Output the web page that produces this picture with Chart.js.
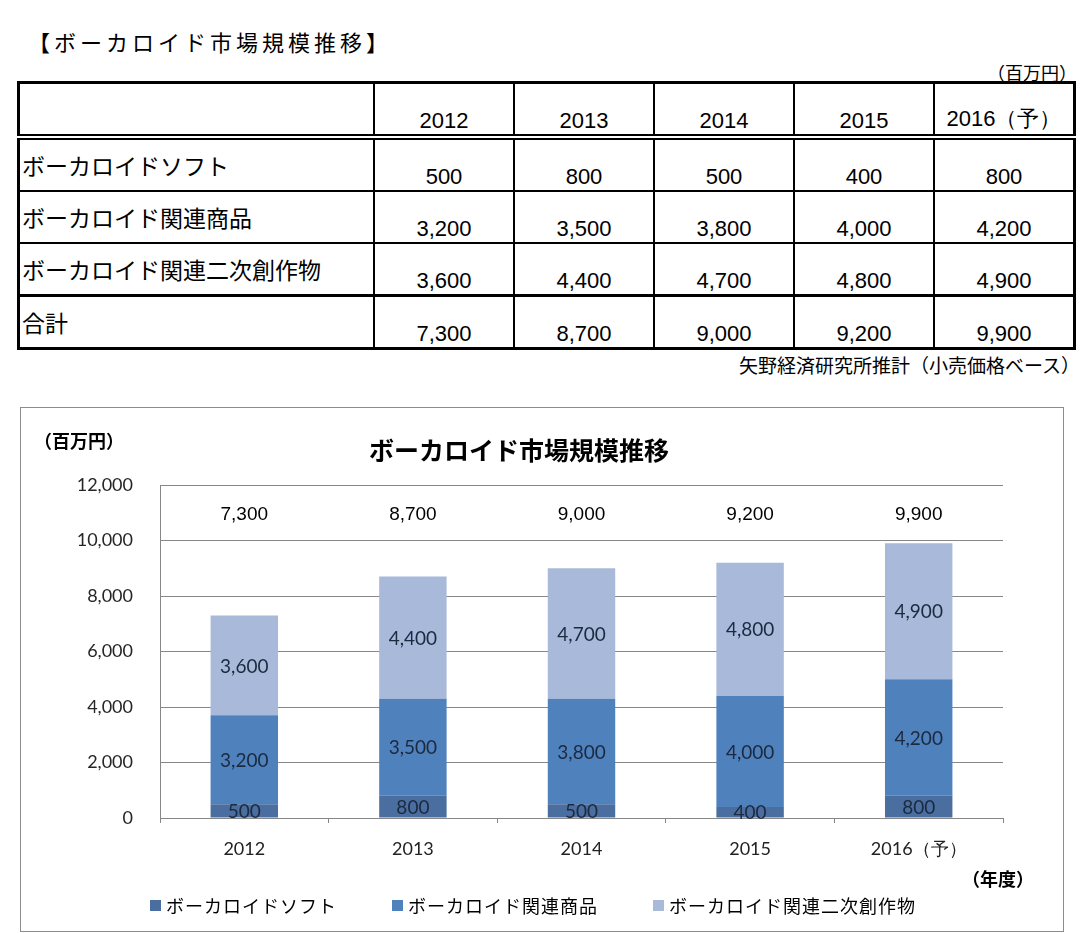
<!DOCTYPE html>
<html lang="ja">
<head>
<meta charset="UTF-8">
<title>ボーカロイド市場規模推移</title>
<script src="https://cdn.jsdelivr.net/npm/chart.js@4.4.1/dist/chart.umd.min.js"></script>
<style>
  body { margin: 0; width: 1080px; height: 933px; position: relative; background: #fff; font-family: "Noto Sans CJK JP", sans-serif; color: #000; overflow: hidden; }
  .abs { position: absolute; white-space: nowrap; line-height: 1; }
  #pageTitle { left: 28px; top: 30px; font-size: 22px; letter-spacing: 4px; }
  #unitTop { right: 3px; top: 63px; font-size: 18px; }
  #source { right: 0; top: 355px; font-size: 19px; }
  table { position: absolute; left: 17px; top: 81px; border-collapse: collapse; border: 3px solid #000; table-layout: fixed; }
  td { border: 2px solid #000; height: 50px; padding: 0 2px; font-size: 22px; }
  td.lbl { width: 349px; vertical-align: middle; text-align: left; font-size: 23px; }
  td.num { width: 134px; vertical-align: bottom; text-align: center; font-family: "Liberation Sans", Arial, sans-serif; padding-bottom: 0; }
  tr.head td { border-bottom: 6px double #000; }
  tr.sub td { border-bottom: 3px solid #000; }
  #box { position: absolute; left: 20px; top: 407px; width: 1042px; height: 523px; border: 1px solid #8c8c8c; }
  #chart { display: block; }
  #unitChart { left: 34px; top: 431px; font-size: 18px; font-weight: bold; }
  #chartTitle { left: 519px; top: 437px; font-size: 25px; font-weight: bold; transform: translateX(-50%); }
  #yearUnit { left: 962px; top: 869px; font-size: 18px; font-weight: bold; }
  #legend { left: 150px; top: 896px; display: flex; gap: 55px; font-size: 18px; letter-spacing: 1px; }
  #legend .item { display: flex; align-items: center; }
  #legend .mk { width: 11px; height: 11px; margin-right: 5px; }
</style>
</head>
<body>
<div class="abs" id="pageTitle">【ボーカロイド市場規模推移】</div>
<div class="abs" id="unitTop">（百万円）</div>
<table id="tbl"></table>
<div class="abs" id="source">矢野経済研究所推計（小売価格ベース）</div>

<div id="box"><canvas id="chart" width="1042" height="523"></canvas></div>
<div class="abs" id="unitChart">（百万円）</div>
<div class="abs" id="chartTitle">ボーカロイド市場規模推移</div>
<div class="abs" id="yearUnit">（年度）</div>
<div class="abs" id="legend"></div>

<script>
const years = ['2012', '2013', '2014', '2015', '2016（予）'];
const seriesNames = ['ボーカロイドソフト', 'ボーカロイド関連商品', 'ボーカロイド関連二次創作物'];
const softValues = [500, 800, 500, 400, 800];
const goodsValues = [3200, 3500, 3800, 4000, 4200];
const derivValues = [3600, 4400, 4700, 4800, 4900];
const totalValues = [7300, 8700, 9000, 9200, 9900];
const totalLabel = '合計';
const yTicks = [0, 2000, 4000, 6000, 8000, 10000, 12000];
const colors = ['#4a6e9f', '#4f81bd', '#a8b9d9'];

const fmt = v => v.toLocaleString('en-US');

// table
const tbl = document.getElementById('tbl');
let html = '<tr class="head"><td class="lbl"></td>' + years.map(y => '<td class="num">' + y + '</td>').join('') + '</tr>';
const rows = [softValues, goodsValues, derivValues];
rows.forEach((r, i) => {
    html += '<tr' + (i === 2 ? ' class="sub"' : '') + '><td class="lbl">' + seriesNames[i] + '</td>' +
        r.map(v => '<td class="num">' + fmt(v) + '</td>').join('') + '</tr>';
});
html += '<tr><td class="lbl">' + totalLabel + '</td>' + totalValues.map(v => '<td class="num">' + fmt(v) + '</td>').join('') + '</tr>';
tbl.innerHTML = html;

// legend
const legend = document.getElementById('legend');
seriesNames.forEach((n, i) => {
    legend.innerHTML += '<div class="item"><span class="mk" style="background:' + colors[i] + '"></span>' + n + '</div>';
});

const gridColor = '#878787';

const labelsPlugin = {
    id: 'barLabels',
    afterDatasetsDraw(chart) {
        const ctx = chart.ctx;
        ctx.save();
        ctx.textAlign = 'center';
        ctx.textBaseline = 'middle';
        ctx.fillStyle = '#1c2a40';
        ctx.font = '19px Lato, "Open Sans", sans-serif';
        chart.data.datasets.forEach((ds, di) => {
            chart.getDatasetMeta(di).data.forEach((bar, i) => {
                const yMid = (bar.y + bar.base) / 2;
                ctx.fillText(fmt(ds.data[i]), bar.x, yMid + 1);
            });
        });
        // totals above the bars
        const ys = chart.scales.y;
        const yTot = ys.getPixelForValue((yTicks[yTicks.length - 1] + yTicks[yTicks.length - 2]) / 2);
        ctx.fillStyle = '#000';
        ctx.font = '19px "Liberation Sans", Arial, sans-serif';
        chart.getDatasetMeta(0).data.forEach((bar, i) => {
            ctx.fillText(fmt(totalValues[i]), bar.x, yTot + 2);
        });
        ctx.restore();
    }
};

new Chart(document.getElementById('chart'), {
    type: 'bar',
    data: {
        labels: years,
        datasets: [
            { label: seriesNames[0], data: softValues, backgroundColor: colors[0] },
            { label: seriesNames[1], data: goodsValues, backgroundColor: colors[1] },
            { label: seriesNames[2], data: derivValues, backgroundColor: colors[2] }
        ]
    },
    options: {
        responsive: false,
        animation: false,
        devicePixelRatio: 1,
        layout: { padding: { top: 77, right: 60, left: 0, bottom: 63 } },
        datasets: { bar: { barPercentage: 0.4, categoryPercentage: 1 } },
        plugins: { legend: { display: false }, tooltip: { enabled: false } },
        scales: {
            x: {
                stacked: true,
                grid: { drawOnChartArea: false, offset: true, tickLength: 5, color: gridColor },
                border: { color: gridColor },
                ticks: { padding: 15, color: '#222', font: { family: 'Lato, sans-serif', size: 18 } },
                afterFit: s => { s.height = 50; }
            },
            y: {
                stacked: true,
                min: 0,
                max: 12000,
                afterBuildTicks: s => { s.ticks = yTicks.map(v => ({ value: v })); },
                grid: { color: gridColor, drawTicks: false },
                border: { color: gridColor },
                ticks: { padding: 27, color: '#262626', font: { family: 'Lato, sans-serif', size: 18 }, callback: v => fmt(v) },
                afterFit: s => { s.width = 139; }
            }
        }
    },
    plugins: [labelsPlugin]
});
</script>
</body>
</html>
